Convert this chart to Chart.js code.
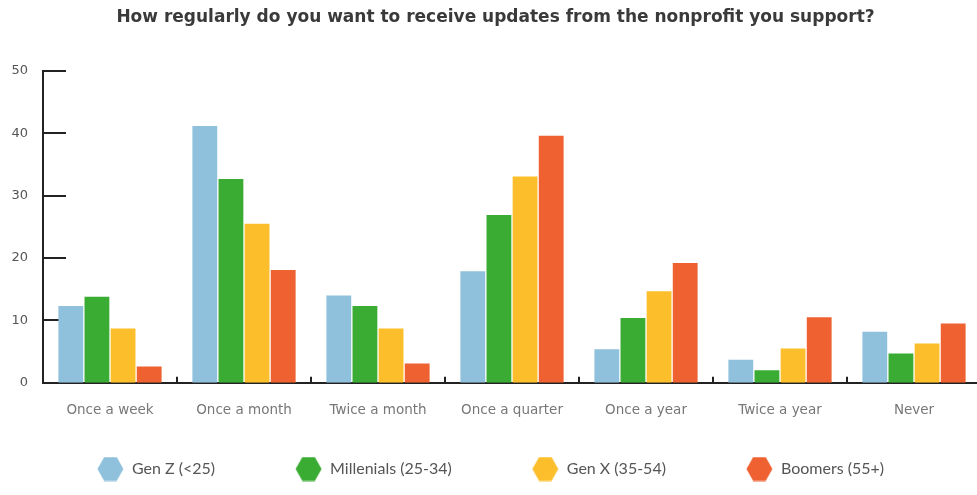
<!DOCTYPE html>
<html>
<head>
<meta charset="utf-8">
<script src="https://cdn.jsdelivr.net/npm/chart.js@4.4.1/dist/chart.umd.min.js"></script>
<style>
    html, body { margin: 0; padding: 0; background: #fff; overflow: hidden; }
    #wrap { position: relative; width: 990px; height: 495px; }
</style>
</head>
<body>
<div id="wrap"><canvas id="updatesChart"></canvas></div>
<script>
// Survey answers per generation (percent of respondents)
const categories = ['Once a week', 'Once a month', 'Twice a month', 'Once a quarter', 'Once a year', 'Twice a year', 'Never'];
const genZ        = [12.3, 41.2, 14.0, 17.9,  5.4,  3.7, 8.2];
const millenials  = [13.8, 32.7, 12.3, 26.9, 10.4,  2.0, 4.7];
const genX        = [ 8.7, 25.5,  8.7, 33.1, 14.7,  5.5, 6.3];
const boomers     = [ 2.6, 18.1,  3.1, 39.6, 19.2, 10.5, 9.5];
const seriesNames = ['Gen Z (<25)', 'Millenials (25-34)', 'Gen X (35-54)', 'Boomers (55+)'];
const seriesColors = ['#8fc0dc', '#3aab33', '#fcbf2b', '#ef6130'];
const yTickValues = [0, 10, 20, 30, 40, 50];

// Hexagon icons for the legend; the blank strip on the left widens the gap between items
const HEX_W = 27, HEX_H = 25, HEX_GAP = 34;
function hexIcon(color) {
    const c = document.createElement('canvas');
    c.width = HEX_W + HEX_GAP;
    c.height = HEX_H;
    const ctx = c.getContext('2d');
    const x0 = HEX_GAP, w = HEX_W, h = HEX_H;
    ctx.fillStyle = color;
    ctx.beginPath();
    ctx.moveTo(x0 + 0.5, h / 2);
    ctx.lineTo(x0 + w * 0.27, 0.5);
    ctx.lineTo(x0 + w * 0.73, 0.5);
    ctx.lineTo(x0 + w - 0.5, h / 2);
    ctx.lineTo(x0 + w * 0.73, h - 0.5);
    ctx.lineTo(x0 + w * 0.27, h - 0.5);
    ctx.closePath();
    ctx.fill();
    return c;
}
const hexIcons = seriesColors.map(hexIcon);

// Short tick marks drawn inside the plot area, under the bars
const innerTicks = {
    id: 'innerTicks',
    beforeDatasetsDraw(chart) {
        const ctx = chart.ctx;
        const x = chart.scales.x;
        const y = chart.scales.y;
        const area = chart.chartArea;
        ctx.save();
        ctx.strokeStyle = '#222';
        ctx.lineWidth = 2;
        ctx.beginPath();
        yTickValues.slice(1).forEach(v => {
            const py = Math.round(y.getPixelForValue(v));
            ctx.moveTo(area.left, py);
            ctx.lineTo(area.left + 23, py);
        });
        for (let i = 1; i <= categories.length; i++) {
            const px = Math.round((x.getPixelForValue(i - 1) + x.getPixelForValue(i)) / 2);
            ctx.moveTo(px, area.bottom);
            ctx.lineTo(px, area.bottom - 6);
        }
        ctx.stroke();
        ctx.restore();
    }
};

// Legend sits closer to the axis labels than its item padding would give,
// and is nudged left to make up for the blank strip in front of the first icon
const LEGEND_PULL = 24;
const LEGEND_SHIFT = 22;
const compactLegend = {
    id: 'compactLegend',
    beforeInit(chart) {
        const legend = chart.legend;
        const fit = legend.fit;
        const draw = legend.draw;
        legend.fit = function() {
            fit.call(this);
            this.height -= LEGEND_PULL;
        };
        legend.draw = function() {
            this.top -= LEGEND_PULL;
            this.left -= LEGEND_SHIFT;
            this.right -= LEGEND_SHIFT;
            draw.call(this);
            this.top += LEGEND_PULL;
            this.left += LEGEND_SHIFT;
            this.right += LEGEND_SHIFT;
        };
    }
};

const datasets = [genZ, millenials, genX, boomers].map((values, i) => ({
    label: seriesNames[i],
    data: values,
    backgroundColor: seriesColors[i],
    categoryPercentage: 0.78,
    barPercentage: 0.95
}));

new Chart(document.getElementById('updatesChart').getContext('2d'), {
    type: 'bar',
    data: { labels: categories, datasets: datasets },
    plugins: [innerTicks, compactLegend],
    options: {
        responsive: true,
        maintainAspectRatio: false,
        animation: false,
        layout: { padding: { left: 10, right: 9, top: 0, bottom: 8 } },
        scales: {
            x: {
                grid: { display: false, drawTicks: false },
                border: { display: true, color: '#222', width: 2 },
                ticks: {
                    padding: 20,
                    color: '#777',
                    font: { family: 'DejaVu Sans', size: 13.5 }
                }
            },
            y: {
                min: 0,
                max: 50,
                afterFit(scale) { scale.width = 33; },
                grid: { display: false, drawTicks: false },
                border: { display: true, color: '#222', width: 2 },
                afterBuildTicks(scale) { scale.ticks = yTickValues.map(v => ({ value: v })); },
                ticks: {
                    padding: 15,
                    color: '#555',
                    font: { family: 'DejaVu Sans', size: 13 }
                }
            }
        },
        plugins: {
            title: {
                display: true,
                text: 'How regularly do you want to receive updates from the nonprofit you support?',
                color: '#3a3a3a',
                font: { family: 'DejaVu Sans', size: 17, weight: 'bold' },
                padding: { top: 7, bottom: 43.6 }
            },
            legend: {
                position: 'bottom',
                labels: {
                    usePointStyle: true,
                    pointStyleWidth: HEX_W + HEX_GAP,
                    boxHeight: 16,
                    padding: 46,
                    color: '#555',
                    font: { family: 'Lato', size: 16 },
                    generateLabels(chart) {
                        const items = Chart.defaults.plugins.legend.labels.generateLabels(chart);
                        items.forEach((item, i) => { item.pointStyle = hexIcons[i]; });
                        return items;
                    }
                }
            },
            tooltip: { enabled: false }
        }
    }
});
</script>
</body>
</html>
